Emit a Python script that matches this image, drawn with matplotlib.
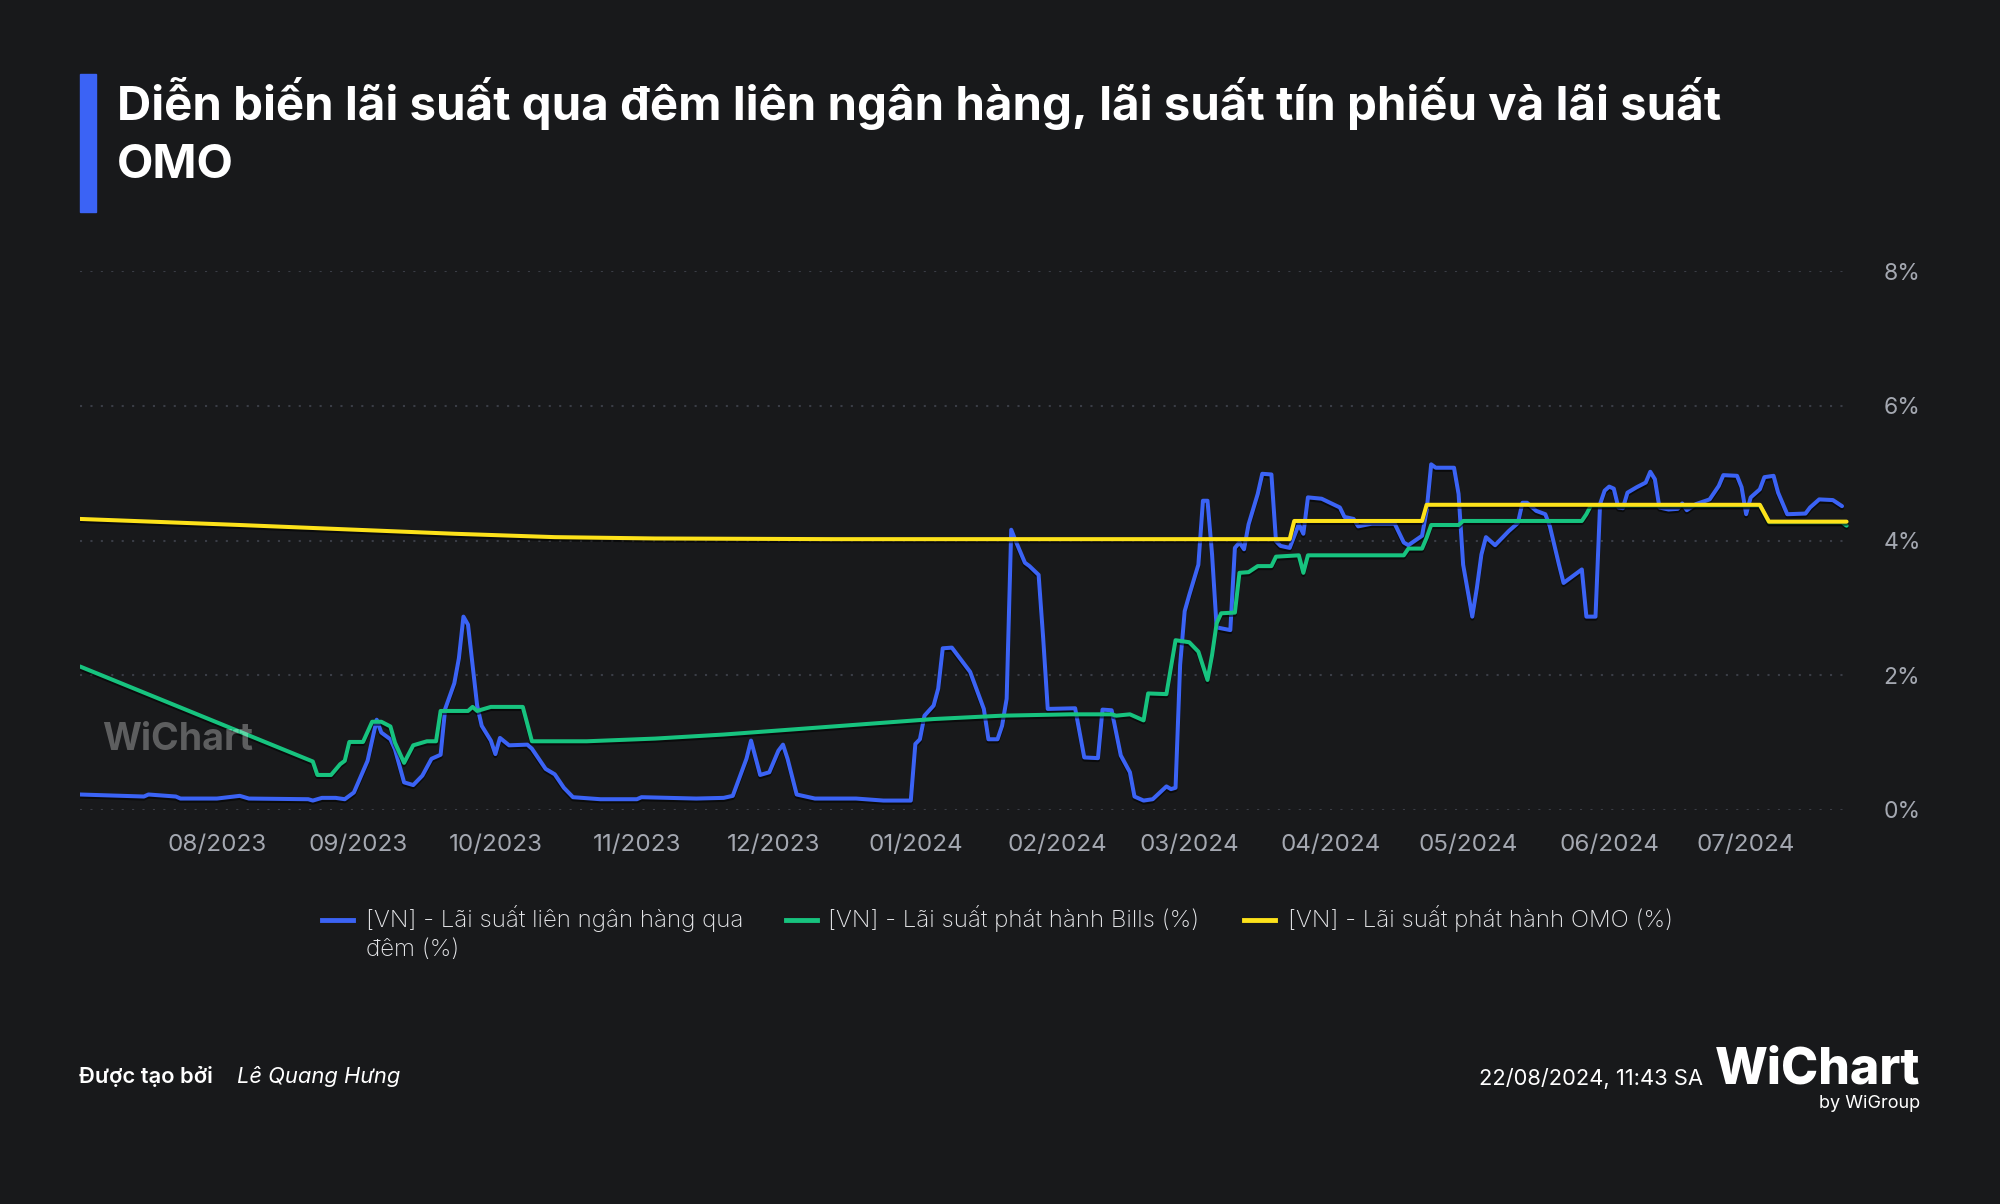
import matplotlib
matplotlib.use("Agg")
import matplotlib.pyplot as plt
import matplotlib.patheffects as pe
from matplotlib.lines import Line2D
from matplotlib.patches import Rectangle
import pandas as pd

plt.rcParams['font.family'] = ['Inter', 'DejaVu Sans']

# --- values (%) ---
interbank_dates = [
    '2023-07-02', '2023-07-16', '2023-07-17', '2023-07-23', '2023-07-24', '2023-08-01',
    '2023-08-06', '2023-08-08', '2023-08-21', '2023-08-22', '2023-08-24', '2023-08-27',
    '2023-08-29', '2023-08-31', '2023-09-03', '2023-09-05', '2023-09-06', '2023-09-08',
    '2023-09-09', '2023-09-11', '2023-09-13', '2023-09-15', '2023-09-17', '2023-09-19',
    '2023-09-20', '2023-09-22', '2023-09-23', '2023-09-24', '2023-09-25', '2023-09-27',
    '2023-09-28', '2023-09-30', '2023-10-01', '2023-10-02', '2023-10-04', '2023-10-08',
    '2023-10-09', '2023-10-12', '2023-10-14', '2023-10-16', '2023-10-18', '2023-10-24',
    '2023-11-01', '2023-11-02', '2023-11-14', '2023-11-20', '2023-11-22', '2023-11-25',
    '2023-11-26', '2023-11-28', '2023-11-30', '2023-12-02', '2023-12-03', '2023-12-04',
    '2023-12-06', '2023-12-10', '2023-12-14', '2023-12-19', '2023-12-25', '2023-12-31',
    '2024-01-01', '2024-01-02', '2024-01-03', '2024-01-05', '2024-01-06', '2024-01-07',
    '2024-01-09', '2024-01-10', '2024-01-13', '2024-01-16', '2024-01-17', '2024-01-19',
    '2024-01-20', '2024-01-21', '2024-01-22', '2024-01-23', '2024-01-25', '2024-01-26',
    '2024-01-28', '2024-01-29', '2024-01-30', '2024-02-05', '2024-02-07', '2024-02-10',
    '2024-02-11', '2024-02-13', '2024-02-15', '2024-02-17', '2024-02-18', '2024-02-20',
    '2024-02-22', '2024-02-25', '2024-02-26', '2024-02-27', '2024-02-28', '2024-02-29',
    '2024-03-01', '2024-03-03', '2024-03-04', '2024-03-05', '2024-03-06', '2024-03-07',
    '2024-03-10', '2024-03-11', '2024-03-12', '2024-03-13', '2024-03-14', '2024-03-16',
    '2024-03-17', '2024-03-19', '2024-03-20', '2024-03-21', '2024-03-23', '2024-03-25',
    '2024-03-26', '2024-03-27', '2024-03-30', '2024-04-03', '2024-04-04', '2024-04-06',
    '2024-04-07', '2024-04-10', '2024-04-15', '2024-04-17', '2024-04-18', '2024-04-21',
    '2024-04-22', '2024-04-23', '2024-04-24', '2024-04-28', '2024-04-29', '2024-04-30',
    '2024-05-02', '2024-05-03', '2024-05-04', '2024-05-05', '2024-05-07', '2024-05-10',
    '2024-05-12', '2024-05-13', '2024-05-14', '2024-05-16', '2024-05-18', '2024-05-19',
    '2024-05-21', '2024-05-22', '2024-05-24', '2024-05-26', '2024-05-27', '2024-05-29',
    '2024-05-30', '2024-05-31', '2024-06-01', '2024-06-02', '2024-06-03', '2024-06-04',
    '2024-06-05', '2024-06-07', '2024-06-09', '2024-06-10', '2024-06-11', '2024-06-12',
    '2024-06-14', '2024-06-16', '2024-06-17', '2024-06-18', '2024-06-20', '2024-06-23',
    '2024-06-25', '2024-06-26', '2024-06-29', '2024-06-30', '2024-07-01', '2024-07-02',
    '2024-07-04', '2024-07-05', '2024-07-07', '2024-07-08', '2024-07-10', '2024-07-14',
    '2024-07-15', '2024-07-17', '2024-07-20', '2024-07-22',
]
interbank = [
    0.23, 0.20, 0.23, 0.20, 0.17, 0.17,
    0.21, 0.17, 0.16, 0.14, 0.18, 0.18,
    0.16, 0.26, 0.73, 1.34, 1.15, 1.05,
    0.90, 0.41, 0.37, 0.51, 0.76, 0.82,
    1.50, 1.88, 2.25, 2.87, 2.75, 1.55,
    1.25, 1.03, 0.83, 1.07, 0.96, 0.97,
    0.91, 0.61, 0.53, 0.33, 0.19, 0.16,
    0.16, 0.19, 0.17, 0.18, 0.21, 0.76,
    1.03, 0.52, 0.56, 0.88, 0.97, 0.76,
    0.23, 0.17, 0.17, 0.17, 0.14, 0.14,
    0.98, 1.05, 1.40, 1.55, 1.80, 2.40,
    2.41, 2.32, 2.05, 1.50, 1.05, 1.05,
    1.25, 1.65, 4.16, 3.99, 3.67, 3.62,
    3.49, 2.55, 1.50, 1.51, 0.78, 0.77,
    1.49, 1.48, 0.81, 0.56, 0.20, 0.14,
    0.16, 0.35, 0.31, 0.33, 2.15, 2.95,
    3.19, 3.64, 4.59, 4.59, 3.79, 2.71,
    2.67, 3.89, 3.97, 3.87, 4.24, 4.69,
    4.99, 4.98, 3.99, 3.92, 3.89, 4.24,
    4.10, 4.64, 4.62, 4.49, 4.35, 4.32,
    4.21, 4.25, 4.25, 3.97, 3.93, 4.07,
    4.44, 5.13, 5.08, 5.08, 4.69, 3.64,
    2.87, 3.29, 3.79, 4.05, 3.93, 4.14,
    4.26, 4.56, 4.56, 4.44, 4.39, 4.21,
    3.64, 3.37, 3.47, 3.57, 2.87, 2.87,
    4.54, 4.74, 4.80, 4.77, 4.49, 4.48,
    4.71, 4.79, 4.86, 5.02, 4.91, 4.49,
    4.46, 4.47, 4.55, 4.45, 4.54, 4.61,
    4.81, 4.97, 4.96, 4.79, 4.39, 4.64,
    4.76, 4.94, 4.96, 4.71, 4.39, 4.40,
    4.49, 4.61, 4.60, 4.51,
]

bills_dates = [
    '2023-07-02', '2023-08-22', '2023-08-23', '2023-08-26', '2023-08-28', '2023-08-29',
    '2023-08-30', '2023-09-02', '2023-09-04', '2023-09-06', '2023-09-08', '2023-09-09',
    '2023-09-11', '2023-09-13', '2023-09-16', '2023-09-18', '2023-09-19', '2023-09-25',
    '2023-09-26', '2023-09-27', '2023-09-30', '2023-10-07', '2023-10-09', '2023-10-21',
    '2023-11-05', '2023-11-20', '2023-12-04', '2023-12-14', '2024-01-05', '2024-01-20',
    '2024-02-04', '2024-02-13', '2024-02-14', '2024-02-17', '2024-02-19', '2024-02-20',
    '2024-02-21', '2024-02-25', '2024-02-27', '2024-03-01', '2024-03-03', '2024-03-05',
    '2024-03-06', '2024-03-07', '2024-03-08', '2024-03-11', '2024-03-12', '2024-03-14',
    '2024-03-16', '2024-03-19', '2024-03-20', '2024-03-25', '2024-03-26', '2024-03-27',
    '2024-04-17', '2024-04-18', '2024-04-21', '2024-04-22', '2024-04-23', '2024-04-29',
    '2024-04-30', '2024-05-26', '2024-05-27', '2024-05-28', '2024-07-04', '2024-07-06',
    '2024-07-22', '2024-07-23',
]
bills = [
    2.13, 0.72, 0.52, 0.52, 0.68, 0.73,
    1.01, 1.01, 1.31, 1.31, 1.24, 1.00,
    0.70, 0.96, 1.02, 1.02, 1.47, 1.47,
    1.53, 1.47, 1.53, 1.53, 1.02, 1.02,
    1.06, 1.12, 1.19, 1.24, 1.35, 1.40,
    1.42, 1.42, 1.40, 1.42, 1.36, 1.33,
    1.73, 1.72, 2.52, 2.49, 2.35, 1.93,
    2.30, 2.77, 2.92, 2.93, 3.52, 3.53,
    3.62, 3.62, 3.76, 3.78, 3.52, 3.78,
    3.78, 3.88, 3.88, 4.04, 4.23, 4.23,
    4.29, 4.29, 4.39, 4.52, 4.52, 4.27,
    4.27, 4.22,
]

omo_dates = [
    '2023-07-02', '2023-08-06', '2023-09-22', '2023-10-14', '2023-11-05', '2023-12-14',
    '2024-03-23', '2024-03-24', '2024-04-21', '2024-04-22', '2024-07-04', '2024-07-06',
    '2024-07-23',
]
omo = [
    4.32, 4.23, 4.10, 4.05, 4.03, 4.02,
    4.02, 4.29, 4.29, 4.53, 4.53, 4.28,
    4.28,
]

x_ticks = ['2023-08-01', '2023-09-01', '2023-10-01', '2023-11-01', '2023-12-01', '2024-01-01',
           '2024-02-01', '2024-03-01', '2024-04-01', '2024-05-01', '2024-06-01', '2024-07-01']
y_ticks = [0, 2, 4, 6, 8]

labels = ['[VN] - Lãi suất liên ngân hàng qua\nđêm (%)',
          '[VN] - Lãi suất phát hành Bills (%)',
          '[VN] - Lãi suất phát hành OMO (%)']

BG = '#18191b'
BLUE = '#3b63f5'
GREEN = '#17c37f'
YELLOW = '#fde21a'
TICK = '#a4a8b1'
W, H = 2000, 1204

fig = plt.figure(figsize=(20, 12.04), dpi=100, facecolor=BG)
ax = fig.add_axes([80 / W, 1 - 810 / H, 1770 / W, 539 / H])
ax.set_facecolor(BG)

shadow = [pe.SimpleLineShadow(offset=(0, -1.5), shadow_color='black', alpha=0.55), pe.Normal()]
series = [(interbank_dates, interbank, BLUE), (bills_dates, bills, GREEN), (omo_dates, omo, YELLOW)]
for i, (d, v, c) in enumerate(series):
    ax.plot(pd.to_datetime(d), v, color=c, lw=2.9, solid_joinstyle='round',
            solid_capstyle='round', path_effects=shadow, zorder=3 + i)

ax.set_ylim(0, 8)
ax.set_xlim(pd.Timestamp('2023-07-02'), pd.Timestamp('2024-07-23 18:00'))
ax.set_yticks(y_ticks)
ax.set_yticklabels([f'{t}%' for t in y_ticks])
ax.yaxis.tick_right()
xt = pd.to_datetime(x_ticks)
ax.set_xticks(xt)
ax.set_xticklabels([t.strftime('%m/%Y') for t in xt])
ax.tick_params(axis='x', length=0, pad=17, labelsize=17.4, labelcolor=TICK)
ax.tick_params(axis='y', length=0, pad=24, labelsize=16.5, labelcolor=TICK)
ax.grid(axis='y', color='#3a3d46', linestyle=(0, (1, 4)), lw=1.5)
ax.set_axisbelow(True)
for s in ax.spines.values():
    s.set_visible(False)

# watermark
fig.text(102 / W, 1 - 740 / H, 'WiChart', fontsize=27, fontweight='bold', color='white',
         alpha=0.3, va='center', ha='left', zorder=10)

# title
fig.patches.append(Rectangle((80 / W, 1 - 212 / H), 16 / W, 138 / H, transform=fig.transFigure,
                             color=BLUE, zorder=2))
fig.text(117 / W, 1 - 120 / H, 'Diễn biến lãi suất qua đêm liên ngân hàng, lãi suất tín phiếu và lãi suất',
         fontsize=34.1, fontweight='bold', color='white', va='baseline')
fig.text(117 / W, 1 - 178 / H, 'OMO', fontsize=34.1, fontweight='bold', color='white', va='baseline')

# legend
leg_x = [(322, 366), (786, 828), (1244, 1288)]
colors = [BLUE, GREEN, YELLOW]
for (mx, tx), lab, c in zip(leg_x, labels, colors):
    fig.add_artist(Line2D([mx / W, (mx + 31) / W], [1 - 920 / H] * 2, color=c, lw=3.5,
                          transform=fig.transFigure))
    for k, line in enumerate(lab.split('\n')):
        fig.text(tx / W, 1 - (927 + 29 * k) / H, line, fontsize=17.4, fontweight='light',
                 color='#e4e5e8', va='baseline')

# footer
fig.text(79 / W, 1 - 1083 / H, 'Được tạo bởi', fontsize=15.8, fontweight='semibold', color='white', va='baseline')
fig.text(237 / W, 1 - 1083 / H, 'Lê Quang Hưng', fontsize=15.8, style='italic', color='white', va='baseline')
fig.text(1703 / W, 1 - 1085 / H, '22/08/2024, 11:43 SA', fontsize=15.8, color='white', va='baseline', ha='right')
fig.text(1920 / W, 1 - 1084 / H, 'WiChart', fontsize=36, fontweight='heavy', color='white', va='baseline', ha='right')
fig.text(1920 / W, 1 - 1108 / H, 'by WiGroup', fontsize=13, color='white', va='baseline', ha='right')

fig.savefig('out.png', dpi=100, facecolor=BG)
